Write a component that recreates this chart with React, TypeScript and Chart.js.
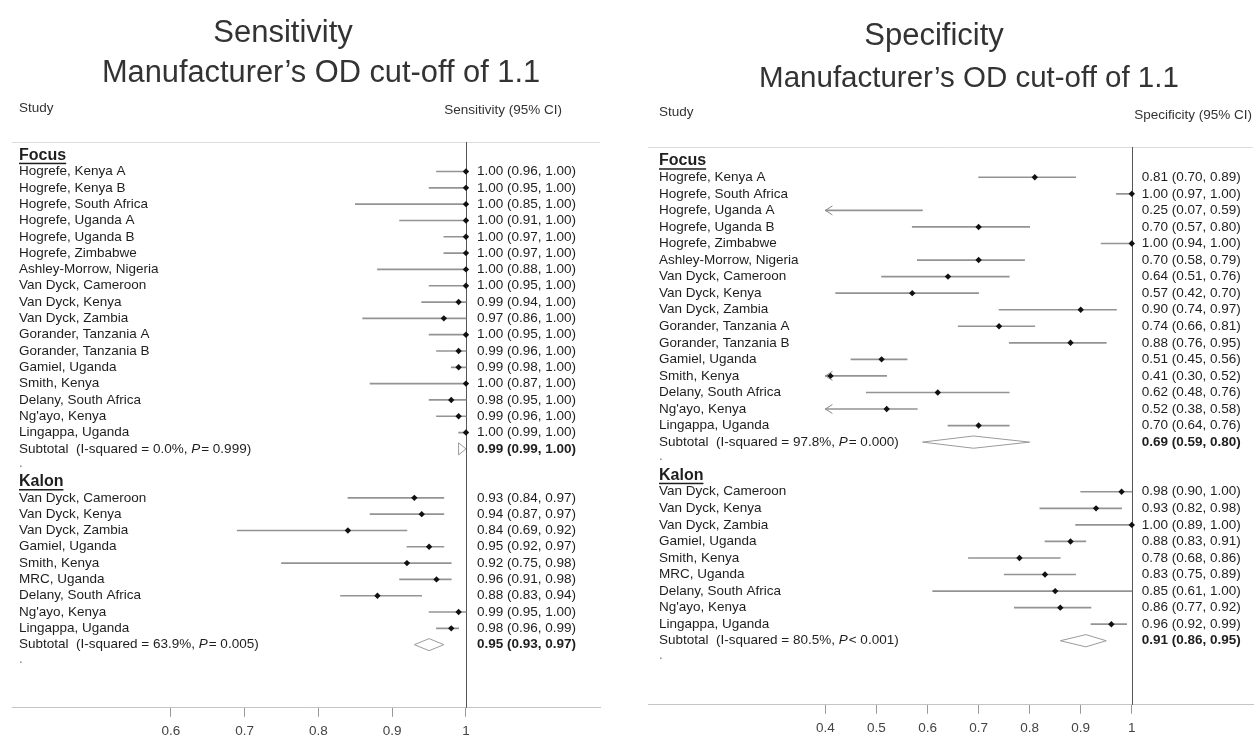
import React, { useEffect, useRef } from 'react';
import { Chart, registerables } from 'chart.js';

Chart.register(...registerables);

// ---------------- Sensitivity data ----------------
const sensFocusStudies = [
  'Hogrefe, Kenya A', 'Hogrefe, Kenya B', 'Hogrefe, South Africa', 'Hogrefe, Uganda A',
  'Hogrefe, Uganda B', 'Hogrefe, Zimbabwe', 'Ashley-Morrow, Nigeria', 'Van Dyck, Cameroon',
  'Van Dyck, Kenya', 'Van Dyck, Zambia', 'Gorander, Tanzania A', 'Gorander, Tanzania B',
  'Gamiel, Uganda', 'Smith, Kenya', 'Delany, South Africa', "Ng'ayo, Kenya", 'Lingappa, Uganda',
];
const sensFocusEst = [1.0, 1.0, 1.0, 1.0, 1.0, 1.0, 1.0, 1.0, 0.99, 0.97, 1.0, 0.99, 0.99, 1.0, 0.98, 0.99, 1.0];
const sensFocusLo = [0.96, 0.95, 0.85, 0.91, 0.97, 0.97, 0.88, 0.95, 0.94, 0.86, 0.95, 0.96, 0.98, 0.87, 0.95, 0.96, 0.99];
const sensFocusHi = [1.0, 1.0, 1.0, 1.0, 1.0, 1.0, 1.0, 1.0, 1.0, 1.0, 1.0, 1.0, 1.0, 1.0, 1.0, 1.0, 1.0];
const sensFocusSubtotal = [0.99, 0.99, 1.0];
const sensFocusI2 = '0.0%';
const sensFocusP = '= 0.999';

const sensKalonStudies = [
  'Van Dyck, Cameroon', 'Van Dyck, Kenya', 'Van Dyck, Zambia', 'Gamiel, Uganda', 'Smith, Kenya',
  'MRC, Uganda', 'Delany, South Africa', "Ng'ayo, Kenya", 'Lingappa, Uganda',
];
const sensKalonEst = [0.93, 0.94, 0.84, 0.95, 0.92, 0.96, 0.88, 0.99, 0.98];
const sensKalonLo = [0.84, 0.87, 0.69, 0.92, 0.75, 0.91, 0.83, 0.95, 0.96];
const sensKalonHi = [0.97, 0.97, 0.92, 0.97, 0.98, 0.98, 0.94, 1.0, 0.99];
const sensKalonSubtotal = [0.95, 0.93, 0.97];
const sensKalonI2 = '63.9%';
const sensKalonP = '= 0.005';

const sensTicks = [0.6, 0.7, 0.8, 0.9, 1];

// ---------------- Specificity data ----------------
const specFocusStudies = [
  'Hogrefe, Kenya A', 'Hogrefe, South Africa', 'Hogrefe, Uganda A', 'Hogrefe, Uganda B',
  'Hogrefe, Zimbabwe', 'Ashley-Morrow, Nigeria', 'Van Dyck, Cameroon', 'Van Dyck, Kenya',
  'Van Dyck, Zambia', 'Gorander, Tanzania A', 'Gorander, Tanzania B', 'Gamiel, Uganda',
  'Smith, Kenya', 'Delany, South Africa', "Ng'ayo, Kenya", 'Lingappa, Uganda',
];
const specFocusEst = [0.81, 1.0, 0.25, 0.7, 1.0, 0.7, 0.64, 0.57, 0.9, 0.74, 0.88, 0.51, 0.41, 0.62, 0.52, 0.7];
const specFocusLo = [0.7, 0.97, 0.07, 0.57, 0.94, 0.58, 0.51, 0.42, 0.74, 0.66, 0.76, 0.45, 0.3, 0.48, 0.38, 0.64];
const specFocusHi = [0.89, 1.0, 0.59, 0.8, 1.0, 0.79, 0.76, 0.7, 0.97, 0.81, 0.95, 0.56, 0.52, 0.76, 0.58, 0.76];
const specFocusSubtotal = [0.69, 0.59, 0.8];
const specFocusI2 = '97.8%';
const specFocusP = '= 0.000';

const specKalonStudies = [
  'Van Dyck, Cameroon', 'Van Dyck, Kenya', 'Van Dyck, Zambia', 'Gamiel, Uganda', 'Smith, Kenya',
  'MRC, Uganda', 'Delany, South Africa', "Ng'ayo, Kenya", 'Lingappa, Uganda',
];
const specKalonEst = [0.98, 0.93, 1.0, 0.88, 0.78, 0.83, 0.85, 0.86, 0.96];
const specKalonLo = [0.9, 0.82, 0.89, 0.83, 0.68, 0.75, 0.61, 0.77, 0.92];
const specKalonHi = [1.0, 0.98, 1.0, 0.91, 0.86, 0.89, 1.0, 0.92, 0.99];
const specKalonSubtotal = [0.91, 0.86, 0.95];
const specKalonI2 = '80.5%';
const specKalonP = '< 0.001';

const specTicks = [0.4, 0.5, 0.6, 0.7, 0.8, 0.9, 1];

// ---------------- helpers ----------------
const FONT = "'Liberation Sans', Arial, Helvetica, sans-serif";
const CANVAS_H = 760;

type Group = {
  name: string; studies: string[]; est: number[]; lo: number[]; hi: number[];
  sub: number[]; i2: string; p: string;
};
type Row = {
  kind: 'header' | 'study' | 'subtotal' | 'blank'; row: number; label?: string;
  est?: number; lo?: number; hi?: number; i2?: string; p?: string;
};

function buildRows(groups: Group[]): Row[] {
  let r = 0;
  const out: Row[] = [];
  for (const g of groups) {
    out.push({ kind: 'header', row: r++, label: g.name });
    g.studies.forEach((s, i) => out.push({ kind: 'study', row: r++, label: s, est: g.est[i], lo: g.lo[i], hi: g.hi[i] }));
    out.push({ kind: 'subtotal', row: r++, est: g.sub[0], lo: g.sub[1], hi: g.sub[2], i2: g.i2, p: g.p });
    out.push({ kind: 'blank', row: r++ });
  }
  return out;
}

const fmt = (v: number) => v.toFixed(2);

type Panel = {
  key: string;
  canvasLeft: number; width: number;
  padding: { left: number; right: number; top: number; bottom: number };
  xMin: number; xMax: number; yMin: number; yMax: number;
  clip: number | null;
  ticks: number[];
  rows: Row[];
  labelOffset: number; ciOffset: number;
  title: string; titleX: number; titleY: number; titleSize: number;
  subtitle: string; subX: number; subY: number; subSize: number;
  studyY: number; ciHead: string; ciHeadRight: number; ciHeadY: number;
};

const TXT = 13.5;

function makePlugin(panel: Panel) {
  return {
    id: 'forest_' + panel.key,
    beforeDatasetsDraw(chart: any) {
      const { ctx, chartArea, scales } = chart;
      ctx.save();
      ctx.lineWidth = 1;
      ctx.strokeStyle = '#dcdcdc';
      const ty = Math.round(chartArea.top) + 0.5;
      ctx.beginPath();
      ctx.moveTo(chartArea.left, ty);
      ctx.lineTo(chartArea.right, ty);
      ctx.stroke();
      const px1 = Math.round(scales.x.getPixelForValue(1)) + 0.5;
      ctx.strokeStyle = '#555';
      ctx.beginPath();
      ctx.moveTo(px1, chartArea.top);
      ctx.lineTo(px1, chartArea.bottom);
      ctx.stroke();
      ctx.restore();
    },
    afterDatasetsDraw(chart: any) {
      const { ctx, chartArea, scales } = chart;
      const xs = scales.x, ys = scales.y;
      const cl = panel.canvasLeft;
      ctx.save();
      // titles
      ctx.fillStyle = '#333';
      ctx.textBaseline = 'alphabetic';
      ctx.textAlign = 'center';
      ctx.font = `${panel.titleSize}px ${FONT}`;
      ctx.fillText(panel.title, panel.titleX - cl, panel.titleY);
      ctx.font = `${panel.subSize}px ${FONT}`;
      ctx.fillText(panel.subtitle, panel.subX - cl, panel.subY);
      // column headers
      ctx.font = `${TXT}px ${FONT}`;
      ctx.textBaseline = 'middle';
      ctx.textAlign = 'left';
      const labelX = chartArea.left + panel.labelOffset;
      ctx.fillText('Study', labelX, panel.studyY);
      ctx.textAlign = 'right';
      ctx.fillText(panel.ciHead, panel.ciHeadRight - cl, panel.ciHeadY);

      const ciX = xs.getPixelForValue(1) + panel.ciOffset;
      ctx.fillStyle = '#1e1e1e';
      for (const r of panel.rows) {
        const y = ys.getPixelForValue(r.row);
        ctx.textAlign = 'left';
        if (r.kind === 'header') {
          ctx.font = `bold 16px ${FONT}`;
          ctx.fillText(r.label, labelX, y);
          const w = ctx.measureText(r.label).width;
          ctx.fillRect(labelX, y + 7.5, w, 1.5);
        } else if (r.kind === 'study') {
          ctx.font = `${TXT}px ${FONT}`;
          ctx.fillText(r.label, labelX, y);
          ctx.fillText(`${fmt(r.est!)} (${fmt(r.lo!)}, ${fmt(r.hi!)})`, ciX, y);
        } else if (r.kind === 'subtotal') {
          ctx.font = `${TXT}px ${FONT}`;
          let x = labelX;
          const s1 = `Subtotal  (I-squared = ${r.i2}, `;
          ctx.fillText(s1, x, y);
          x += ctx.measureText(s1).width;
          ctx.font = `italic ${TXT}px ${FONT}`;
          ctx.fillText('P', x, y);
          x += ctx.measureText('P').width + 1;
          ctx.font = `${TXT}px ${FONT}`;
          ctx.fillText(`${r.p})`, x, y);
          ctx.font = `bold ${TXT}px ${FONT}`;
          ctx.fillText(`${fmt(r.est!)} (${fmt(r.lo!)}, ${fmt(r.hi!)})`, ciX, y);
        } else {
          ctx.font = `${TXT}px ${FONT}`;
          ctx.fillStyle = '#777';
          ctx.fillText('.', labelX, y - 2);
          ctx.fillStyle = '#1e1e1e';
        }
      }
      // arrows for truncated intervals
      if (panel.clip !== null) {
        ctx.strokeStyle = '#888';
        ctx.lineWidth = 1;
        for (const r of panel.rows) {
          if (r.kind === 'study' && r.lo! < panel.clip) {
            const ax = xs.getPixelForValue(panel.clip);
            const y = ys.getPixelForValue(r.row);
            ctx.beginPath();
            ctx.moveTo(ax + 7, y - 4.5);
            ctx.lineTo(ax, y);
            ctx.lineTo(ax + 7, y + 4.5);
            ctx.stroke();
          }
        }
      }
      ctx.restore();
    },
  };
}

function buildConfig(panel: Panel): any {
  const studies = panel.rows.filter((r) => r.kind === 'study');
  const subs = panel.rows.filter((r) => r.kind === 'subtotal');
  const clip = panel.clip === null ? -Infinity : panel.clip;
  const datasets: any[] = [
    {
      type: 'bar',
      indexAxis: 'y',
      data: studies.map((r) => ({ y: r.row, x: [Math.max(r.lo!, clip), r.hi!] })),
      backgroundColor: '#939393',
      borderWidth: 0,
      barThickness: 1,
      borderSkipped: false,
      order: 2,
    },
    {
      type: 'scatter',
      data: studies.filter((r) => r.est! >= clip).map((r) => ({ x: r.est, y: r.row })),
      pointStyle: 'rectRot',
      pointRadius: 3.2,
      backgroundColor: '#111',
      borderWidth: 0,
      order: 1,
    },
  ];
  const h = 0.37;
  subs.forEach((r) => {
    datasets.push({
      type: 'line',
      data: [
        { x: r.lo, y: r.row }, { x: r.est, y: r.row - h }, { x: r.hi, y: r.row },
        { x: r.est, y: r.row + h }, { x: r.lo, y: r.row },
      ],
      borderColor: '#9a9a9a',
      borderWidth: 1,
      pointRadius: 0,
      fill: false,
      tension: 0,
      order: 0,
    });
  });
  return {
    type: 'scatter',
    data: { datasets },
    options: {
      animation: false,
      responsive: false,
      events: [],
      layout: { padding: panel.padding },
      plugins: { legend: { display: false }, tooltip: { enabled: false }, title: { display: false } },
      scales: {
        x: {
          type: 'linear',
          min: panel.xMin,
          max: panel.xMax,
          afterBuildTicks: (scale: any) => {
            scale.ticks = panel.ticks.map((v) => ({ value: v }));
          },
          ticks: {
            callback: (v: any) => String(v),
            font: { family: FONT, size: 13.5 },
            color: '#444',
            padding: 6,
            autoSkip: false,
            maxRotation: 0,
          },
          grid: { drawOnChartArea: false, drawTicks: true, tickLength: 9, color: '#9a9a9a' },
          border: { display: true, color: '#c4c4c4', width: 1 },
        },
        y: {
          type: 'linear',
          display: false,
          reverse: true,
          min: panel.yMin,
          max: panel.yMax,
          offset: false,
        },
      },
    },
    plugins: [makePlugin(panel)],
  };
}

const leftPanel: Panel = {
  key: 'sens',
  canvasLeft: 0, width: 628,
  padding: { left: 12, right: 28, top: 142, bottom: 15 },
  xMin: 0.3848, xMax: 1.1816, yMin: -0.81, yMax: 33.87,
  clip: null,
  ticks: sensTicks,
  rows: buildRows([
    { name: 'Focus', studies: sensFocusStudies, est: sensFocusEst, lo: sensFocusLo, hi: sensFocusHi, sub: sensFocusSubtotal, i2: sensFocusI2, p: sensFocusP },
    { name: 'Kalon', studies: sensKalonStudies, est: sensKalonEst, lo: sensKalonLo, hi: sensKalonHi, sub: sensKalonSubtotal, i2: sensKalonI2, p: sensKalonP },
  ]),
  labelOffset: 7, ciOffset: 11,
  title: 'Sensitivity', titleX: 283, titleY: 42, titleSize: 31,
  subtitle: 'Manufacturer\u2019s OD cut-off of 1.1', subX: 321, subY: 82, subSize: 30.8,
  studyY: 108, ciHead: 'Sensitivity (95% CI)', ciHeadRight: 562, ciHeadY: 110,
};

const rightPanel: Panel = {
  key: 'spec',
  canvasLeft: 628, width: 629,
  padding: { left: 20, right: 0, top: 147, bottom: 18 },
  xMin: 0.0525, xMax: 1.2374, yMin: -0.83, yMax: 32.87,
  clip: 0.4,
  ticks: specTicks,
  rows: buildRows([
    { name: 'Focus', studies: specFocusStudies, est: specFocusEst, lo: specFocusLo, hi: specFocusHi, sub: specFocusSubtotal, i2: specFocusI2, p: specFocusP },
    { name: 'Kalon', studies: specKalonStudies, est: specKalonEst, lo: specKalonLo, hi: specKalonHi, sub: specKalonSubtotal, i2: specKalonI2, p: specKalonP },
  ]),
  labelOffset: 11, ciOffset: 10,
  title: 'Specificity', titleX: 934, titleY: 45, titleSize: 31,
  subtitle: 'Manufacturer\u2019s OD cut-off of 1.1', subX: 969, subY: 87, subSize: 29.5,
  studyY: 112, ciHead: 'Specificity (95% CI)', ciHeadRight: 1252, ciHeadY: 115,
};

function ForestCanvas({ panel }: { panel: Panel }) {
  const ref = useRef<HTMLCanvasElement | null>(null);
  useEffect(() => {
    if (!ref.current) return;
    const chart = new Chart(ref.current, buildConfig(panel));
    return () => chart.destroy();
  }, [panel]);
  return (
    <canvas
      ref={ref}
      width={panel.width}
      height={CANVAS_H}
      style={{ position: 'absolute', left: panel.canvasLeft, top: 0, width: panel.width, height: CANVAS_H }}
    />
  );
}

export default function App() {
  return (
    <div style={{ position: 'fixed', left: 0, top: 0, width: 1257, height: 739, background: '#fff', overflow: 'hidden' }}>
      <ForestCanvas panel={leftPanel} />
      <ForestCanvas panel={rightPanel} />
    </div>
  );
}
